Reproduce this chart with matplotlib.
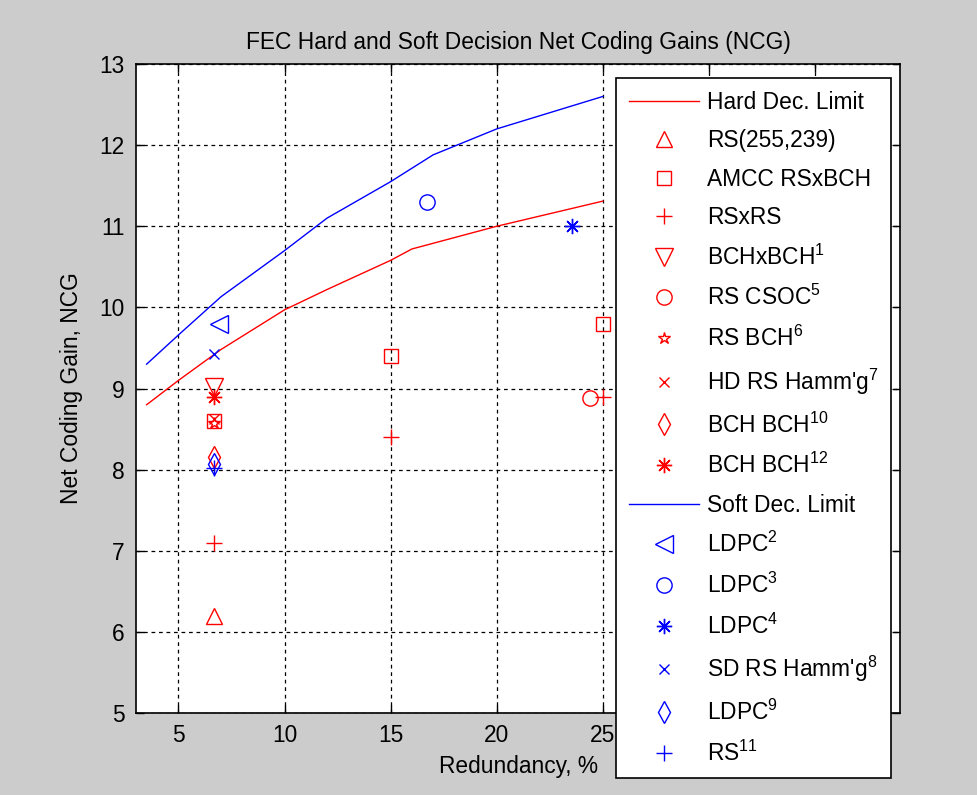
import matplotlib
matplotlib.use("Agg")
import matplotlib.pyplot as plt

plt.rcParams['font.family'] = ['Liberation Sans', 'DejaVu Sans']
plt.rcParams['mathtext.default'] = 'regular'

# Limit curves
hard_x = [3.5, 5, 7, 10, 12, 15, 16, 20, 25]
hard_y = [8.8, 9.1, 9.48, 9.97, 10.22, 10.58, 10.72, 11.0, 11.31]
soft_x = [3.5, 5, 7, 10, 12, 15, 17, 20, 25]
soft_y = [9.3, 9.66, 10.13, 10.7, 11.1, 11.55, 11.88, 12.2, 12.6]

# Hard decision codes
rs255_x, rs255_y = [6.69], [6.2]
amcc_x, amcc_y = [6.69, 15, 25], [8.6, 9.4, 9.8]
rsxrs_x, rsxrs_y = [6.69, 15, 25], [7.1, 8.4, 8.9]
bchxbch_x, bchxbch_y = [6.69], [9.02]
rscsoc_x, rscsoc_y = [24.4], [8.88]
rsbch_x, rsbch_y = [6.69], [8.58]
hdhamm_x, hdhamm_y = [6.69], [8.62]
bch10_x, bch10_y = [6.69], [8.15]
bch12_x, bch12_y = [6.69], [8.9]

# Soft decision codes
ldpc2_x, ldpc2_y = [6.9], [9.8]
ldpc3_x, ldpc3_y = [16.7], [11.3]
ldpc4_x, ldpc4_y = [23.55], [11.0]
sdhamm_x, sdhamm_y = [6.69], [9.42]
ldpc9_x, ldpc9_y = [6.69], [8.07]
rs11_x, rs11_y = [6.69], [8.02]

xticks = [5, 10, 15, 20, 25, 30, 35]
# 30 and 35 sit under the legend box
xticklabels = ['5', '10', '15', '20', '25', '', '']

RED = '#ff0000'
BLUE = '#0000ff'
asterisk = (8, 2, 0)
FS = 16.4

fig = plt.figure(figsize=(9.77, 7.95), dpi=100, facecolor='#cccccc')
ax = fig.add_axes([0.1392, 0.1031, 0.782, 0.8164])
ax.set_facecolor('white')

def mk(x, y, m, c, ms, label):
    ax.plot(x, y, linestyle='none', marker=m, color=c, mfc='none', mec=c,
            ms=ms, mew=1.0, label=label)

ax.plot(hard_x, hard_y, color=RED, lw=1.0, label='Hard Dec. Limit')
mk(rs255_x, rs255_y, '^', RED, 12, 'RS(255,239)')
mk(amcc_x, amcc_y, 's', RED, 10.5, 'AMCC RSxBCH')
mk(rsxrs_x, rsxrs_y, '+', RED, 11, 'RSxRS')
mk(bchxbch_x, bchxbch_y, 'v', RED, 12.5, 'BCHxBCH$^1$')
mk(rscsoc_x, rscsoc_y, 'o', RED, 11, 'RS CSOC$^5$')
mk(rsbch_x, rsbch_y, '*', RED, 9, 'RS BCH$^6$')
mk(hdhamm_x, hdhamm_y, 'x', RED, 6.5, "HD RS Hamm'g$^7$")
mk(bch10_x, bch10_y, 'd', RED, 11, 'BCH BCH$^{10}$')
mk(bch12_x, bch12_y, asterisk, RED, 11, 'BCH BCH$^{12}$')
ax.plot(soft_x, soft_y, color=BLUE, lw=1.0, label='Soft Dec. Limit')
mk(ldpc2_x, ldpc2_y, '<', BLUE, 12.5, 'LDPC$^2$')
mk(ldpc3_x, ldpc3_y, 'o', BLUE, 11, 'LDPC$^3$')
mk(ldpc4_x, ldpc4_y, asterisk, BLUE, 11, 'LDPC$^4$')
mk(sdhamm_x, sdhamm_y, 'x', BLUE, 6.5, "SD RS Hamm'g$^8$")
mk(ldpc9_x, ldpc9_y, 'd', BLUE, 11, 'LDPC$^9$')
mk(rs11_x, rs11_y, '+', BLUE, 11, 'RS$^{11}$')

ax.set_xlim(3, 39)
ax.set_ylim(5, 13)
ax.set_xticks(xticks)
ax.set_xticklabels(xticklabels)
ax.set_yticks([5, 6, 7, 8, 9, 10, 11, 12, 13])
ax.grid(True, color='black', linestyle=(0, (3, 3)), linewidth=0.9)
ax.set_axisbelow(True)
ax.tick_params(direction='in', top=True, right=True, length=6, width=1.0,
               labelsize=FS, pad=8)
for s in ax.spines.values():
    s.set_linewidth(1.2)

ax.set_title('FEC Hard and Soft Decision Net Coding Gains (NCG)', fontsize=FS, pad=11)
ax.set_xlabel('Redundancy, %', fontsize=FS, labelpad=6)
ax.set_ylabel('Net Coding Gain, NCG', fontsize=FS, labelpad=12)

leg = ax.legend(loc='upper left', bbox_to_anchor=(616 / 977, 1 - 78 / 795),
                bbox_transform=fig.transFigure, borderaxespad=0, fontsize=FS,
                handlelength=3.1, handletextpad=0.35, borderpad=0.55,
                labelspacing=0.68, fancybox=False, framealpha=1, numpoints=1)
leg.get_frame().set_edgecolor('black')
leg.get_frame().set_linewidth(1.2)

fig.savefig('out.png', dpi=100, facecolor=fig.get_facecolor())
